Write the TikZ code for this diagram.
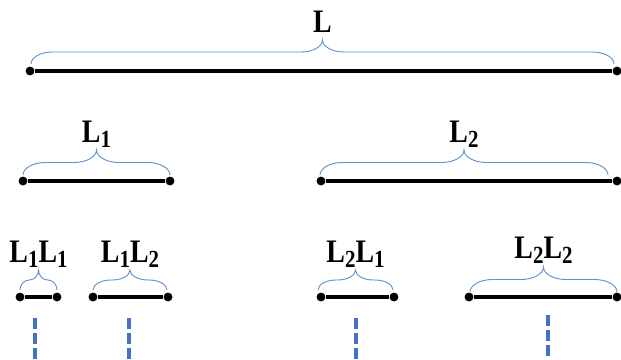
\documentclass[tikz,border=0pt]{standalone}
\usepackage{fontspec}
\setmainfont{Liberation Serif}
\usetikzlibrary{calc,positioning}
\definecolor{bracecol}{RGB}{96,146,208}
\definecolor{dashcol}{RGB}{68,114,196}
\tikzset{
  dot/.style={circle,fill=black,inner sep=0pt,minimum size=7.6pt},
  seg/.style={line width=2.7pt},
  brc/.style={draw=bracecol,line width=0.8pt},
  lbl/.style={font=\fontsize{28}{30}\selectfont\bfseries,inner sep=0pt,anchor=base,xscale=0.85},
  cont/.style={draw=dashcol,line width=2.6pt,dash pattern=on 9.4pt off 3.2pt}
}
% subscript digit of a label
\newcommand{\lsub}[1]{\raisebox{-5pt}{\fontsize{21}{21}\selectfont #1}}
% brace: tip name, left x, right x, end y, tip y
\newcommand{\spanbrace}[5]{%
  \pgfmathsetmacro{\bxm}{(#2+#3)/2}
  \pgfmathsetmacro{\byf}{(#4+#5)/2}
  \pgfmathsetmacro{\byh}{(#4-#5)/2}
  \pgfmathsetmacro{\bxr}{min((#4-#5)*0.9,(#3-#2)/4)}
  \draw[brc] (#2,#4) .. controls (#2,#4-0.55*\byh) and (#2+0.45*\bxr,\byf) .. (#2+\bxr,\byf)
    -- (\bxm-\bxr,\byf) .. controls (\bxm-0.45*\bxr,\byf) and (\bxm,\byf-0.45*\byh) .. (\bxm,#5)
    .. controls (\bxm,\byf-0.45*\byh) and (\bxm+0.45*\bxr,\byf) .. (\bxm+\bxr,\byf)
    -- (#3-\bxr,\byf) .. controls (#3-0.45*\bxr,\byf) and (#3,#4-0.55*\byh) .. (#3,#4);
  \coordinate (#1) at (\bxm,#5);}

\begin{document}
\begin{tikzpicture}[x=0.03cm,y=-0.03cm]
\useasboundingbox (0,0) rectangle (621,359);

% whole length
\node[dot] (La) at (30,71) {};
\node[dot] (Lb) at (617,71) {};
\draw[seg] (La) -- (Lb);
\spanbrace{tipL}{31}{614}{64}{40}
\node[lbl] (labL) at ([yshift=6pt]tipL) {L};

% first split
\node[dot] (Aa) at (23,181) {};
\node[dot] (Ab) at (170,181) {};
\draw[seg] (Aa) -- (Ab);
\spanbrace{tipA}{23}{170}{175}{150}
\node[lbl] (labA) at ([yshift=6.8pt]tipA) {L\lsub{1}};

\node[dot] (Ba) at (321,181) {};
\node[dot] (Bb) at (617,181) {};
\draw[seg] (Ba) -- (Bb);
\spanbrace{tipB}{320}{608}{175}{150}
\node[lbl] (labB) at ([yshift=6.8pt]tipB) {L\lsub{2}};

% second split
\node[dot] (AAa) at (20,297) {};
\node[dot] (AAb) at (57,297) {};
\draw[seg] (AAa) -- (AAb);
\spanbrace{tipAA}{20}{57}{290}{270}
\node[lbl] (labAA) at ([yshift=6.8pt]tipAA) {L\lsub{1}L\lsub{1}};

\node[dot] (ABa) at (93,297) {};
\node[dot] (ABb) at (168,297) {};
\draw[seg] (ABa) -- (ABb);
\spanbrace{tipAB}{93}{167}{290}{270}
\node[lbl] (labAB) at ([yshift=6.8pt]tipAB) {L\lsub{1}L\lsub{2}};

\node[dot] (BAa) at (321,297) {};
\node[dot] (BAb) at (394,297) {};
\draw[seg] (BAa) -- (BAb);
\spanbrace{tipBA}{318}{393}{290}{270}
\node[lbl] (labBA) at ([yshift=6.8pt]tipBA) {L\lsub{2}L\lsub{1}};

\node[dot] (BBa) at (469,297) {};
\node[dot] (BBb) at (617,297) {};
\draw[seg] (BBa) -- (BBb);
\spanbrace{tipBB}{470}{617}{292}{267}
\node[lbl] (labBB) at ([yshift=7.6pt]tipBB) {L\lsub{2}L\lsub{2}};

% continuation marks
\coordinate (cAAt) at (35,318);  \coordinate (cAAb) at (35,359);
\coordinate (cABt) at (129,318); \coordinate (cABb) at (129,359);
\coordinate (cBAt) at (356,318); \coordinate (cBAb) at (356,359);
\coordinate (cBBt) at (548,315); \coordinate (cBBb) at (548,359);
\draw[cont] (cAAt) -- (cAAb);
\draw[cont] (cABt) -- (cABb);
\draw[cont] (cBAt) -- (cBAb);
\draw[cont] (cBBt) -- (cBBb);
\end{tikzpicture}
\end{document}
